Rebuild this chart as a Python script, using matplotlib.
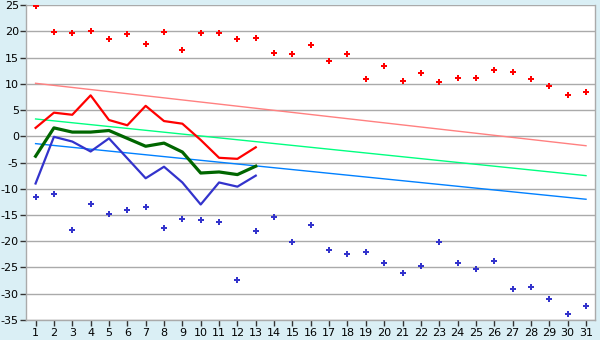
import matplotlib
matplotlib.use("Agg")
import matplotlib.pyplot as plt
import numpy as np

days = list(range(1, 32))
day_labels = [str(d) for d in days]

max_points = [24.9, 19.9, 19.7, 20.1, 18.6, 19.4, 17.6, 19.9, 16.5, 19.7,
              19.6, 18.6, 18.8, 15.9, 15.7, 17.4, 14.4, 15.7, 10.9, 13.4,
              10.5, 12.1, 10.3, 11.1, 11.1, 12.6, 12.2, 10.9, 9.6, 7.8, 8.4]
min_points = [-11.5, -11.0, -17.8, -12.9, -14.8, -14.0, -13.4, -17.5, -15.7, -15.9,
              -16.3, -27.4, -18.0, -15.4, -20.1, -16.9, -21.7, -22.4, -22.0, -24.1,
              -26.1, -24.7, -20.1, -24.1, -25.3, -23.8, -29.1, -28.7, -31.0, -33.9, -32.4]

line_days = list(range(1, 14))
red_line = [1.6, 4.5, 4.1, 7.8, 3.1, 2.1, 5.8, 2.9, 2.4, -0.7, -4.1, -4.3, -2.1]
green_line = [-3.8, 1.6, 0.8, 0.8, 1.1, -0.4, -1.9, -1.3, -3.0, -7.0, -6.8, -7.3, -5.7]
blue_line = [-9.0, -0.1, -1.0, -2.9, -0.4, -4.2, -8.0, -5.8, -8.8, -13.0, -8.8, -9.6, -7.5]

trend_days = [1, 31]
pink_trend = [10.1, -1.8]
lightgreen_trend = [3.3, -7.5]
lightblue_trend = [-1.4, -12.0]

y_ticks = [-35, -30, -25, -20, -15, -10, -5, 0, 5, 10, 15, 20, 25]
y_labels = ["-35", "-30", "-25", "-20", "-15", "-10", "-5",
            "0", "5", "10", "15", "20", "25"]

bg = "#DAEFF5"
fig = plt.figure(figsize=(6, 3.4), dpi=100, facecolor=bg)
ax = fig.add_axes([0.044, 0.059, 0.948, 0.926])
ax.set_facecolor("white")

for y in y_ticks:
    ax.axhline(y, color="#AAAAAA", lw=1.0, zorder=1)

ax.plot(trend_days, pink_trend, color="#FF8080", lw=1.0, zorder=2)
ax.plot(trend_days, lightgreen_trend, color="#00FF80", lw=1.0, zorder=2)
ax.plot(trend_days, lightblue_trend, color="#0080FF", lw=1.0, zorder=2)

ax.plot(line_days, red_line, color="#FF0000", lw=1.6, zorder=3)
ax.plot(line_days, green_line, color="#006600", lw=2.3, zorder=3)
ax.plot(line_days, blue_line, color="#3333CC", lw=1.6, zorder=3)

ax.plot(days, max_points, linestyle="none", marker="P", markersize=5.0,
        color="#FF0000", markeredgewidth=0, zorder=4)
ax.plot(days, min_points, linestyle="none", marker="P", markersize=4.2,
        color="#3333CC", markeredgewidth=0, zorder=4)

ax.set_xlim(0.5, 31.5)
ax.set_ylim(-35, 25)
ax.set_xticks(days)
ax.set_xticklabels(day_labels)
ax.set_yticks(y_ticks)
ax.set_yticklabels(y_labels)
ax.tick_params(axis="both", colors="#333333", labelsize=8, length=4, width=1,
               labelcolor="black", pad=1.5)
for lbl in ax.get_xticklabels() + ax.get_yticklabels():
    lbl.set_fontfamily("DejaVu Sans")
for s in ["left", "bottom", "right", "top"]:
    ax.spines[s].set_color("#AAAAAA")
    ax.spines[s].set_linewidth(1.0)
ax.spines["top"].set_visible(False)

fig.savefig("out.png", dpi=100, facecolor=bg)
